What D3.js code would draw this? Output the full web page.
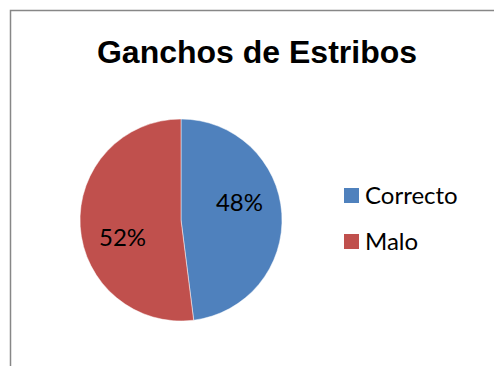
<!DOCTYPE html>
<html><head><meta charset="utf-8">
<script src="https://cdn.jsdelivr.net/npm/d3@7"></script>
<style>html,body{margin:0;padding:0;background:#fff;overflow:hidden}</style>
</head><body>
<script>
const title = "Ganchos de Estribos";
const categories = ["Correcto", "Malo"];
const values = [48, 52];
const colors = ["#4F81BD", "#C0504D"];

const W = 494, H = 366;
const svg = d3.select("body").append("svg").attr("width", W).attr("height", H);

svg.append("rect").attr("x", 10.5).attr("y", 10.5).attr("width", 520).attr("height", 400)
  .attr("fill", "#fff").attr("stroke", "#878787").attr("stroke-width", 1.5);

svg.append("text").attr("x", 257).attr("y", 63).attr("text-anchor", "middle")
  .attr("font-family", "Liberation Sans, Arial, sans-serif").attr("font-weight", "bold")
  .attr("font-size", 32).attr("fill", "#000").text(title);

const cx = 181, cy = 220, r = 101;
const pie = d3.pie().sort(null).value(d => d);
const arcs = pie(values);
const arc = d3.arc().innerRadius(0).outerRadius(r);
const g = svg.append("g").attr("transform", `translate(${cx},${cy})`);
g.selectAll("path").data(arcs).join("path")
  .attr("d", arc).attr("fill", (d, i) => colors[i])
  .attr("stroke", "#fff").attr("stroke-opacity", 0.6).attr("stroke-width", 0.8);

const shift = -13 * Math.PI / 180;
const lr = 61;
g.selectAll("text.lbl").data(arcs).join("text").attr("class", "lbl")
  .attr("x", d => lr * Math.sin((d.startAngle + d.endAngle) / 2 + shift))
  .attr("y", d => -lr * Math.cos((d.startAngle + d.endAngle) / 2 + shift))
  .attr("dy", "0.35em").attr("text-anchor", "middle")
  .attr("font-family", "Lato, sans-serif").attr("font-size", 24).attr("fill", "#000")
  .text(d => d.data + "%");

const leg = svg.append("g");
const ly = d3.scalePoint().domain(categories).range([188, 234]);
leg.selectAll("rect").data(categories).join("rect")
  .attr("x", 344).attr("y", d => ly(d)).attr("width", 15).attr("height", 15)
  .attr("fill", (d, i) => colors[i]);
leg.selectAll("text").data(categories).join("text")
  .attr("x", 365).attr("y", d => ly(d) + 16)
  .attr("font-family", "Lato, sans-serif").attr("font-size", 24).attr("fill", "#000")
  .text(d => d);
</script>
</body></html>
